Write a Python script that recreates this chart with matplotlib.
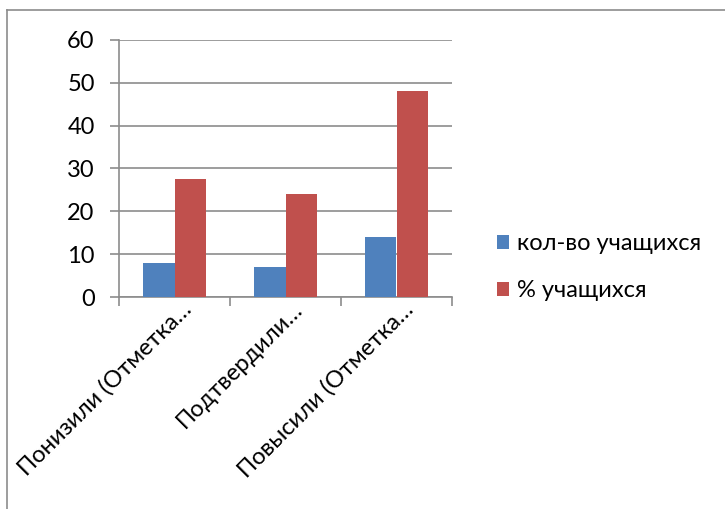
import matplotlib.pyplot as plt
import numpy as np
from matplotlib.lines import Line2D
import matplotlib.transforms as mtransforms

categories = ["Понизили (Отметка…", "Подтвердили…", "Повысили (Отметка…"]
count_students = [8, 7, 14]
pct_students = [27.6, 24.0, 48.2]
series_names = ["кол-во учащихся", "% учащихся"]

plt.rcParams['font.family'] = ['Lato', 'DejaVu Sans']

W, H = 725, 509
fig = plt.figure(figsize=(W / 100, H / 100), dpi=100)
ax = fig.add_axes([119 / W, 1 - 297 / H, (452 - 119) / W, (297 - 40) / H])

x = np.arange(len(categories))
bw = 0.28
ax.bar(x - bw / 2, count_students, bw, color='#4f81bd', label=series_names[0], zorder=3)
ax.bar(x + bw / 2, pct_students, bw, color='#c0504d', label=series_names[1], zorder=3)

ax.set_xlim(-0.5, len(categories) - 0.5)
ax.set_ylim(0, 60)
ax.set_yticks(range(0, 61, 10))
ax.yaxis.grid(True, color='#8c8c8c', lw=1.2, zorder=0)

for s in ['top', 'right']:
    ax.spines[s].set_visible(False)
for s in ['left', 'bottom']:
    ax.spines[s].set_color('#8c8c8c')
    ax.spines[s].set_linewidth(1.2)

# category boundary ticks on x
ax.set_xticks(np.arange(-0.5, len(categories), 1.0))
ax.set_xticklabels([])
ax.tick_params(axis='x', which='major', length=6.5, color='#8c8c8c', width=1.2)
ax.set_xticks(x, minor=True)
ax.set_xticklabels(categories, minor=True, rotation=45, ha='right',
                   rotation_mode='anchor', fontsize=17)
ax.tick_params(axis='x', which='minor', length=0, pad=1)
shift = mtransforms.ScaledTranslation(6 / 100, 0, fig.dpi_scale_trans)
for lbl in ax.get_xticklabels(minor=True):
    lbl.set_transform(lbl.get_transform() + shift)
ax.tick_params(axis='y', length=6.5, color='#8c8c8c', width=1.2, labelsize=17, pad=11)

fig.legend(loc='upper left', bbox_to_anchor=(476 / W, 1 - 212 / H), frameon=False,
           fontsize=17, handlelength=0.5, handleheight=0.5, handletextpad=0.35,
           labelspacing=1.1)

# outer chart border
fig.add_artist(Line2D([7 / W, 7 / W], [0, 1 - 10 / H], transform=fig.transFigure,
                      color='#8c8c8c', lw=1.2))
fig.add_artist(Line2D([7 / W, 1], [1 - 10 / H, 1 - 10 / H], transform=fig.transFigure,
                      color='#8c8c8c', lw=1.2))

fig.savefig('out.png', dpi=100)
